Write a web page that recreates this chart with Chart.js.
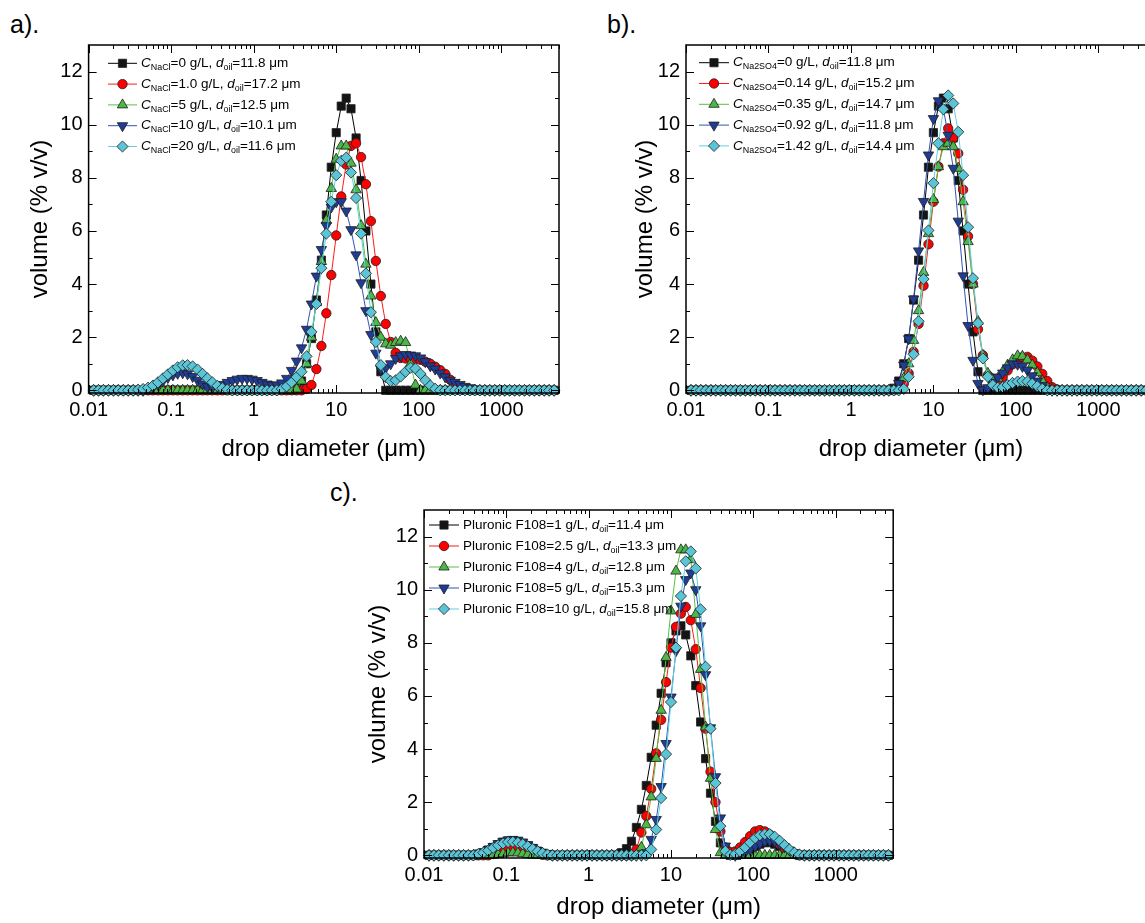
<!DOCTYPE html>
<html>
<head>
<meta charset="utf-8">
<script src="https://cdn.jsdelivr.net/npm/chart.js@4/dist/chart.umd.min.js"></script>
<style>
  html, body { margin: 0; padding: 0; background: #fff; overflow: hidden; }
  body { width: 1145px; height: 923px; position: relative; font-family: "Liberation Sans", Arial, sans-serif; }
  canvas { position: absolute; }
  .tag { position: absolute; font-size: 25px; color: #000; line-height: 29px; }
</style>
</head>
<body>
<div class="tag" style="left:10px; top:10px;">a).</div>
<div class="tag" style="left:607px; top:10px;">b).</div>
<div class="tag" style="left:330px; top:478px;">c).</div>
<canvas id="chartA" width="580" height="470" style="left:0; top:0;"></canvas>
<canvas id="chartB" width="580" height="470" style="left:600px; top:0;"></canvas>
<canvas id="chartC" width="580" height="453" style="left:320px; top:470px;"></canvas>
<script>
const FONT = '"Liberation Sans", Arial, sans-serif';

// drop diameter (µm), one value per size class
const diam = [
  0.0115, 0.0132, 0.0151, 0.0174, 0.0200, 0.0229, 0.0263, 0.0302, 0.0347, 0.0398,
  0.0457, 0.0525, 0.0603, 0.0692, 0.0794, 0.0912, 0.105, 0.120, 0.138, 0.158,
  0.182, 0.209, 0.240, 0.275, 0.316, 0.363, 0.417, 0.479, 0.550, 0.631,
  0.724, 0.832, 0.955, 1.10, 1.26, 1.45, 1.66, 1.91, 2.19, 2.51,
  2.88, 3.31, 3.80, 4.37, 5.01, 5.75, 6.61, 7.59, 8.71, 10.0,
  11.5, 13.2, 15.1, 17.4, 20.0, 22.9, 26.3, 30.2, 34.7, 39.8,
  45.7, 52.5, 60.3, 69.2, 79.4, 91.2, 105, 120, 138, 158,
  182, 209, 240, 275, 316, 363, 417, 479, 550, 631,
  724, 832, 955, 1100, 1260, 1450, 1660, 1910, 2190, 2510,
  2880, 3310, 3800, 4370
];

const xTickValues = [0.01, 0.1, 1, 10, 100, 1000];
const xTickLabels = ['0.01', '0.1', '1', '10', '100', '1000'];
const yTickValues = [0, 2, 4, 6, 8, 10, 12];

// legend texts
const aLabels = [
  '<i>C</i><sub>NaCl</sub>=0 g/L, <i>d</i><sub>oil</sub>=11.8 μm',
  '<i>C</i><sub>NaCl</sub>=1.0 g/L, <i>d</i><sub>oil</sub>=17.2 μm',
  '<i>C</i><sub>NaCl</sub>=5 g/L, <i>d</i><sub>oil</sub>=12.5 μm',
  '<i>C</i><sub>NaCl</sub>=10 g/L, <i>d</i><sub>oil</sub>=10.1 μm',
  '<i>C</i><sub>NaCl</sub>=20 g/L, <i>d</i><sub>oil</sub>=11.6 μm'
];
const bLabels = [
  '<i>C</i><sub>Na2SO4</sub>=0 g/L, <i>d</i><sub>oil</sub>=11.8 μm',
  '<i>C</i><sub>Na2SO4</sub>=0.14 g/L, <i>d</i><sub>oil</sub>=15.2 μm',
  '<i>C</i><sub>Na2SO4</sub>=0.35 g/L, <i>d</i><sub>oil</sub>=14.7 μm',
  '<i>C</i><sub>Na2SO4</sub>=0.92 g/L, <i>d</i><sub>oil</sub>=11.8 μm',
  '<i>C</i><sub>Na2SO4</sub>=1.42 g/L, <i>d</i><sub>oil</sub>=14.4 μm'
];
const cLabels = [
  'Pluronic F108=1 g/L, <i>d</i><sub>oil</sub>=11.4 μm',
  'Pluronic F108=2.5 g/L, <i>d</i><sub>oil</sub>=13.3 μm',
  'Pluronic F108=4 g/L, <i>d</i><sub>oil</sub>=12.8 μm',
  'Pluronic F108=5 g/L, <i>d</i><sub>oil</sub>=15.3 μm',
  'Pluronic F108=10 g/L, <i>d</i><sub>oil</sub>=15.8 μm'
];

// a) NaCl, volume %
const aBlack = [
  0,0,0,0,0,0,0,0,0,0,
  0,0,0,0,0,0,0,0,0,0,
  0,0,0,0,0,0,0,0,0,0,
  0,0,0,0,0,0,0,0,0,0,
  0,0.08,0.35,1.0,1.95,3.4,4.9,6.6,8.4,9.7,
  10.7,11.0,10.6,9.5,7.9,6.0,4.0,2.2,0.7,0,
  0,0,0,0,0,0,0,0,0,0,
  0,0,0,0,0,0,0,0,0,0,
  0,0,0,0,0,0,0,0,0,0,
  0,0,0,0
];
const aRed = [
  0,0,0,0,0,0,0,0,0,0,
  0,0,0,0,0,0,0,0,0,0,
  0,0,0,0,0,0,0,0,0,0,
  0,0,0,0,0,0,0,0,0,0,
  0,0,0,0.05,0.2,0.8,1.67,2.9,4.34,5.83,
  7.3,8.5,9.2,9.3,8.78,7.76,6.37,4.87,3.55,2.5,
  1.82,1.41,1.22,1.2,1.2,1.18,1.15,1.08,1.0,0.89,
  0.76,0.62,0.4,0.2,0.08,0.02,0,0,0,0,
  0,0,0,0,0,0,0,0,0,0,
  0,0,0,0
];
const aGreen = [
  0,0,0,0,0,0,0,0,0,0,
  0,0,0,0,0,0,0,0,0,0,
  0,0,0,0,0,0,0,0,0,0,
  0,0,0,0,0,0,0,0,0,0,
  0,0.05,0.35,1.0,2.0,3.3,4.85,6.4,7.6,8.7,
  9.2,9.2,8.55,7.55,6.2,4.75,3.55,2.55,2.0,1.75,
  1.7,1.8,1.85,1.8,1.0,0.2,0,0,0,0,
  0,0,0,0,0,0,0,0,0,0,
  0,0,0,0,0,0,0,0,0,0,
  0,0,0,0
];
const aBlue = [
  0,0,0,0,0,0,0,0,0,0,
  0,0.05,0.12,0.22,0.35,0.48,0.58,0.64,0.66,0.62,
  0.52,0.38,0.24,0.14,0.12,0.15,0.22,0.3,0.37,0.42,
  0.45,0.45,0.42,0.37,0.3,0.24,0.2,0.2,0.28,0.45,
  0.75,1.1,1.6,2.3,3.25,4.3,5.3,6.2,6.9,7.1,
  7.1,6.75,6.05,5.1,4.05,3.0,2.1,1.4,0.8,0.85,
  1.0,1.2,1.3,1.35,1.33,1.3,1.22,1.08,0.92,0.8,
  0.65,0.51,0.38,0.3,0.22,0.15,0.1,0.05,0.02,0,
  0,0,0,0,0,0,0,0,0,0,
  0,0,0,0
];
const aCyan = [
  0,0,0,0,0,0,0,0,0,0.02,
  0.05,0.1,0.18,0.3,0.45,0.6,0.75,0.87,0.94,0.95,
  0.9,0.78,0.62,0.45,0.3,0.17,0.08,0.03,0,0,
  0,0,0,0,0,0,0,0,0.05,0.15,
  0.3,0.5,0.7,1.28,2.2,3.25,4.6,5.9,7.1,8.1,
  8.64,8.76,8.2,7.24,5.9,4.4,2.94,1.82,0.95,0.5,
  0.35,0.38,0.52,0.7,0.85,0.82,0.62,0.38,0.18,0.06,
  0,0,0,0,0,0,0,0,0,0,
  0,0,0,0,0,0,0,0,0,0,
  0,0,0,0
];

// b) Na2SO4, volume %
const bBlack = aBlack;   // same 0 g/L sample
const bRed = [
  0,0,0,0,0,0,0,0,0,0,
  0,0,0,0,0,0,0,0,0,0,
  0,0,0,0,0,0,0,0,0,0,
  0,0,0,0,0,0,0,0,0,0,
  0,0,0.05,0.25,0.64,1.45,2.5,3.94,5.5,7.1,
  8.42,9.3,9.86,9.5,8.92,7.55,5.8,4.0,2.3,1.32,
  0.57,0.26,0.3,0.5,0.75,0.98,1.15,1.24,1.26,1.12,
  0.9,0.62,0.35,0.12,0.03,0,0,0,0,0,
  0,0,0,0,0,0,0,0,0,0,
  0,0,0,0
];
const bGreen = [
  0,0,0,0,0,0,0,0,0,0,
  0,0,0,0,0,0,0,0,0,0,
  0,0,0,0,0,0,0,0,0,0,
  0,0,0,0,0,0,0,0,0,0,
  0,0,0.1,0.45,1.0,1.88,3.0,4.44,5.9,7.18,
  8.42,9.17,9.3,9.17,8.36,7.1,5.6,4.0,2.6,1.32,
  0.64,0.42,0.45,0.7,0.95,1.15,1.3,1.28,1.15,0.95,
  0.66,0.35,0.12,0.03,0,0,0,0,0,0,
  0,0,0,0,0,0,0,0,0,0,
  0,0,0,0
];
const bBlue = [
  0,0,0,0,0,0,0,0,0,0,
  0,0,0,0,0,0,0,0,0,0,
  0,0,0,0,0,0,0,0,0,0,
  0,0,0,0,0,0,0,0,0,0,
  0,0.05,0.26,0.95,1.94,3.44,5.25,7.11,8.86,10.23,
  10.9,10.6,9.6,8.36,6.37,4.31,2.44,1.13,0.26,0.02,
  0.1,0.3,0.5,0.65,0.85,1.0,0.98,0.9,0.76,0.55,
  0.35,0.18,0.06,0,0,0,0,0,0,0,
  0,0,0,0,0,0,0,0,0,0,
  0,0,0,0
];
const bCyan = [
  0,0,0,0,0,0,0,0,0,0,
  0,0,0,0,0,0,0,0,0,0,
  0,0,0,0,0,0,0,0,0,0,
  0,0,0,0,0,0,0,0,0,0,
  0,0,0,0.05,0.51,1.36,2.6,4.19,6.02,7.8,
  9.3,10.58,11.1,10.8,9.73,8.1,6.14,4.22,2.53,1.2,
  0.51,0.2,0.1,0.12,0.2,0.28,0.33,0.35,0.33,0.25,
  0.15,0.06,0,0,0,0,0,0,0,0,
  0,0,0,0,0,0,0,0,0,0,
  0,0,0,0
];

// c) Pluronic F108, volume %
const cBlack = [
  0,0,0,0,0,0,0,0,0,0,
  0.05,0.1,0.2,0.3,0.4,0.49,0.54,0.55,0.52,0.45,
  0.36,0.26,0.16,0.08,0.03,0,0,0,0,0,
  0,0,0,0,0,0,0,0,0,0.1,
  0.25,0.53,1.05,1.73,2.63,3.69,4.9,6.1,7.25,8.0,
  8.45,8.64,8.3,7.51,6.39,5.02,3.64,2.34,1.28,0.47,
  0.1,0,0,0.05,0.12,0.22,0.33,0.42,0.48,0.48,
  0.42,0.33,0.22,0.12,0.05,0,0,0,0,0,
  0,0,0,0,0,0,0,0,0,0,
  0,0,0,0
];
const cRed = [
  0,0,0,0,0,0,0,0,0,0,
  0,0,0,0.05,0.1,0.16,0.22,0.27,0.27,0.24,
  0.18,0.12,0.06,0.02,0,0,0,0,0,0,
  0,0,0,0,0,0,0,0,0,0,
  0,0,0.22,0.86,1.48,2.5,3.84,5.1,6.52,7.82,
  8.6,9.1,9.35,8.85,7.76,6.3,4.77,3.15,2.0,0.9,
  0.3,0.12,0.15,0.3,0.5,0.72,0.9,0.95,0.9,0.78,
  0.6,0.42,0.25,0.12,0.05,0,0,0,0,0,
  0,0,0,0,0,0,0,0,0,0,
  0,0,0,0
];
const cGreen = [
  0,0,0,0,0,0,0,0,0,0,
  0,0,0,0,0.03,0.06,0.09,0.1,0.09,0.06,
  0.03,0,0,0,0,0,0,0,0,0,
  0,0,0,0,0,0,0,0,0,0,
  0,0,0,0.3,1.15,2.2,3.65,5.46,7.45,9.2,
  10.7,11.5,11.5,11.13,9.07,7.0,4.83,2.9,0.97,0.1,
  0,0,0,0,0,0,0,0,0,0,
  0,0,0,0,0,0,0,0,0,0,
  0,0,0,0,0,0,0,0,0,0,
  0,0,0,0
];
const cBlue = [
  0,0,0,0,0,0,0,0,0,0.02,
  0.06,0.12,0.22,0.33,0.44,0.53,0.58,0.6,0.57,0.5,
  0.4,0.29,0.18,0.1,0.04,0,0,0,0,0,
  0,0,0,0,0,0,0,0,0,0,
  0,0,0,0,0.1,0.6,1.35,2.59,4.21,5.96,
  7.7,9.38,10.38,10.63,10.0,8.64,6.8,4.8,2.96,1.41,
  0.35,0.05,0,0.05,0.12,0.22,0.34,0.45,0.53,0.55,
  0.52,0.43,0.32,0.2,0.1,0.04,0,0,0,0,
  0,0,0,0,0,0,0,0,0,0,
  0,0,0,0
];
const cCyan = [
  0,0,0,0,0,0,0,0,0,0,
  0.05,0.1,0.18,0.28,0.38,0.45,0.5,0.51,0.48,0.42,
  0.34,0.24,0.15,0.08,0.03,0,0,0,0,0,
  0,0,0,0,0,0,0,0,0,0,
  0,0,0,0,0,0.22,0.97,2.16,3.81,5.77,
  7.82,9.76,11.07,11.44,10.8,9.26,7.1,4.77,2.72,1.1,
  0.16,0.02,0.05,0.15,0.3,0.48,0.65,0.76,0.8,0.8,
  0.7,0.55,0.38,0.22,0.1,0.03,0,0,0,0,
  0,0,0,0,0,0,0,0,0,0,
  0,0,0,0
];

// 每条曲线的样式
const looks = [
  { line: '#000000', fill: '#141414', shape: 'rect', r: 5.8, rot: 0 },
  { line: '#ff1a1a', fill: '#ff0000', shape: 'circle', r: 4.7, rot: 0 },
  { line: '#55c244', fill: '#4cb848', shape: 'triangle', r: 6.0, rot: 0 },
  { line: '#3353b3', fill: '#1f3c96', shape: 'triangle', r: 6.0, rot: 180 },
  { line: '#5fd0e2', fill: '#5bc5d8', shape: 'rectRot', r: 5.6, rot: 0 }
];

// 边框和朝内的刻度
const frameTicks = {
  id: 'frameTicks',
  afterDatasetsDraw(chart) {
    const { ctx, chartArea: { left, right, top, bottom }, scales: { x, y } } = chart;
    ctx.save();
    ctx.strokeStyle = '#000';
    ctx.lineWidth = 1;
    ctx.beginPath();
    for (let e = -2; e <= 3; e++) {
      for (let m = 1; m <= 9; m++) {
        const v = m * Math.pow(10, e);
        if (v > x.max) break;
        const px = Math.round(x.getPixelForValue(v)) + 0.5;
        const len = m === 1 ? 8 : 4;
        ctx.moveTo(px, bottom); ctx.lineTo(px, bottom - len);
        ctx.moveTo(px, top); ctx.lineTo(px, top + len);
      }
    }
    for (let v = 0; v <= 12; v++) {
      const py = Math.round(y.getPixelForValue(v)) + 0.5;
      const len = v % 2 === 0 ? 8 : 4;
      ctx.moveTo(left, py); ctx.lineTo(left + len, py);
      ctx.moveTo(right, py); ctx.lineTo(right - len, py);
    }
    ctx.stroke();
    ctx.lineWidth = 1.5;
    ctx.strokeRect(left, top, right - left, bottom - top);
    ctx.restore();
  }
};

// 图例: 线段 + 标记 + 带下标的文字
const richLegend = {
  id: 'richLegend',
  afterDraw(chart, args, opts) {
    const ctx = chart.ctx;
    ctx.save();
    chart.data.datasets.forEach((ds, k) => {
      const y = opts.y0 + k * opts.dy;
      ctx.strokeStyle = ds.borderColor;
      ctx.lineWidth = 1;
      ctx.beginPath();
      ctx.moveTo(opts.x0, y);
      ctx.lineTo(opts.x1, y);
      ctx.stroke();
      ctx.fillStyle = ds.pointBackgroundColor;
      ctx.strokeStyle = ds.pointBorderColor;
      ctx.lineWidth = ds.pointBorderWidth;
      Chart.helpers.drawPoint(ctx, {
        pointStyle: ds.pointStyle, radius: ds.pointRadius,
        rotation: ds.pointRotation, borderWidth: ds.pointBorderWidth
      }, (opts.x0 + opts.x1) / 2, y);

      let x = opts.tx;
      ctx.fillStyle = '#000';
      ctx.textBaseline = 'middle';
      ds.label.split(/(<i>.*?<\/i>|<sub>.*?<\/sub>)/).forEach(part => {
        if (!part) return;
        let text = part, dy = 0;
        ctx.font = opts.size + 'px ' + FONT;
        if (part.startsWith('<i>')) {
          text = part.slice(3, -4);
          ctx.font = 'italic ' + opts.size + 'px ' + FONT;
        } else if (part.startsWith('<sub>')) {
          text = part.slice(5, -6);
          ctx.font = (opts.size * 0.66) + 'px ' + FONT;
          dy = opts.size * 0.32;
        }
        ctx.fillText(text, x, y + dy);
        x += ctx.measureText(text).width;
      });
    });
    ctx.restore();
  }
};

function makeChart(id, series, labels, box) {
  const datasets = series.map((vals, k) => ({
    label: labels[k],
    data: vals.map((v, j) => ({ x: diam[j], y: v })),
    borderColor: looks[k].line,
    borderWidth: 1,
    backgroundColor: looks[k].fill,
    pointBackgroundColor: looks[k].fill,
    pointBorderColor: '#1e1e1e',
    pointBorderWidth: 0.8,
    pointStyle: looks[k].shape,
    pointRadius: looks[k].r,
    pointRotation: looks[k].rot,
    tension: 0,
    clip: false,
    order: 10 - k
  }));

  return new Chart(document.getElementById(id), {
    type: 'line',
    data: { datasets },
    options: {
      responsive: false,
      animation: false,
      devicePixelRatio: 1,
      layout: { padding: { left: 0, right: box.padRight, top: box.padTop, bottom: 0 } },
      plugins: {
        legend: { display: false },
        tooltip: { enabled: false },
        richLegend: box.legend
      },
      scales: {
        x: {
          type: 'logarithmic',
          min: 0.01,
          max: 5000,
          grid: { display: false, drawTicks: false },
          border: { display: false },
          afterBuildTicks: s => { s.ticks = xTickValues.map(v => ({ value: v })); },
          afterFit: s => { s.height = box.xHeight; },
          ticks: {
            color: '#000',
            font: { family: FONT, size: 20 },
            padding: 5,
            maxRotation: 0,
            autoSkip: false,
            callback: v => xTickLabels[xTickValues.indexOf(v)]
          },
          title: {
            display: true,
            text: 'drop diameter (μm)',
            color: '#000',
            font: { family: FONT, size: 24 },
            padding: { top: box.xTitlePad, bottom: box.xTitlePad }
          }
        },
        y: {
          min: -0.1,
          max: 13,
          grid: { display: false, drawTicks: false },
          border: { display: false },
          afterBuildTicks: s => { s.ticks = yTickValues.map(v => ({ value: v })); },
          afterFit: s => { s.width = box.yWidth; },
          ticks: {
            color: '#000',
            font: { family: FONT, size: 20 },
            padding: 6,
            callback: v => String(v)
          },
          title: {
            display: true,
            text: 'volume (% v/v)',
            color: '#000',
            font: { family: FONT, size: 24 },
            padding: { top: box.yTitlePad, bottom: box.yTitlePad }
          }
        }
      }
    },
    plugins: [frameTicks, richLegend]
  });
}

makeChart('chartA', [aBlack, aRed, aGreen, aBlue, aCyan], aLabels, {
  padTop: 45, padRight: 21, yWidth: 88.6, xHeight: 77, xTitlePad: 6.6, yTitlePad: 25.6,
  legend: { x0: 108, x1: 137, tx: 141, y0: 63.3, dy: 20.8, size: 13.5 }
});
makeChart('chartB', [bBlack, bRed, bGreen, bBlue, bCyan], bLabels, {
  padTop: 45, padRight: 24, yWidth: 86, xHeight: 77, xTitlePad: 6.6, yTitlePad: 30.6,
  legend: { x0: 99, x1: 129, tx: 133, y0: 62.7, dy: 20.8, size: 13.5 }
});
makeChart('chartC', [cBlack, cRed, cGreen, cBlue, cCyan], cLabels, {
  padTop: 40, padRight: 3, yWidth: 104, xHeight: 65, xTitlePad: 1.6, yTitlePad: 43.6,
  legend: { x0: 109, x1: 139, tx: 143, y0: 55, dy: 21, size: 13.5 }
});
</script>
</body>
</html>
